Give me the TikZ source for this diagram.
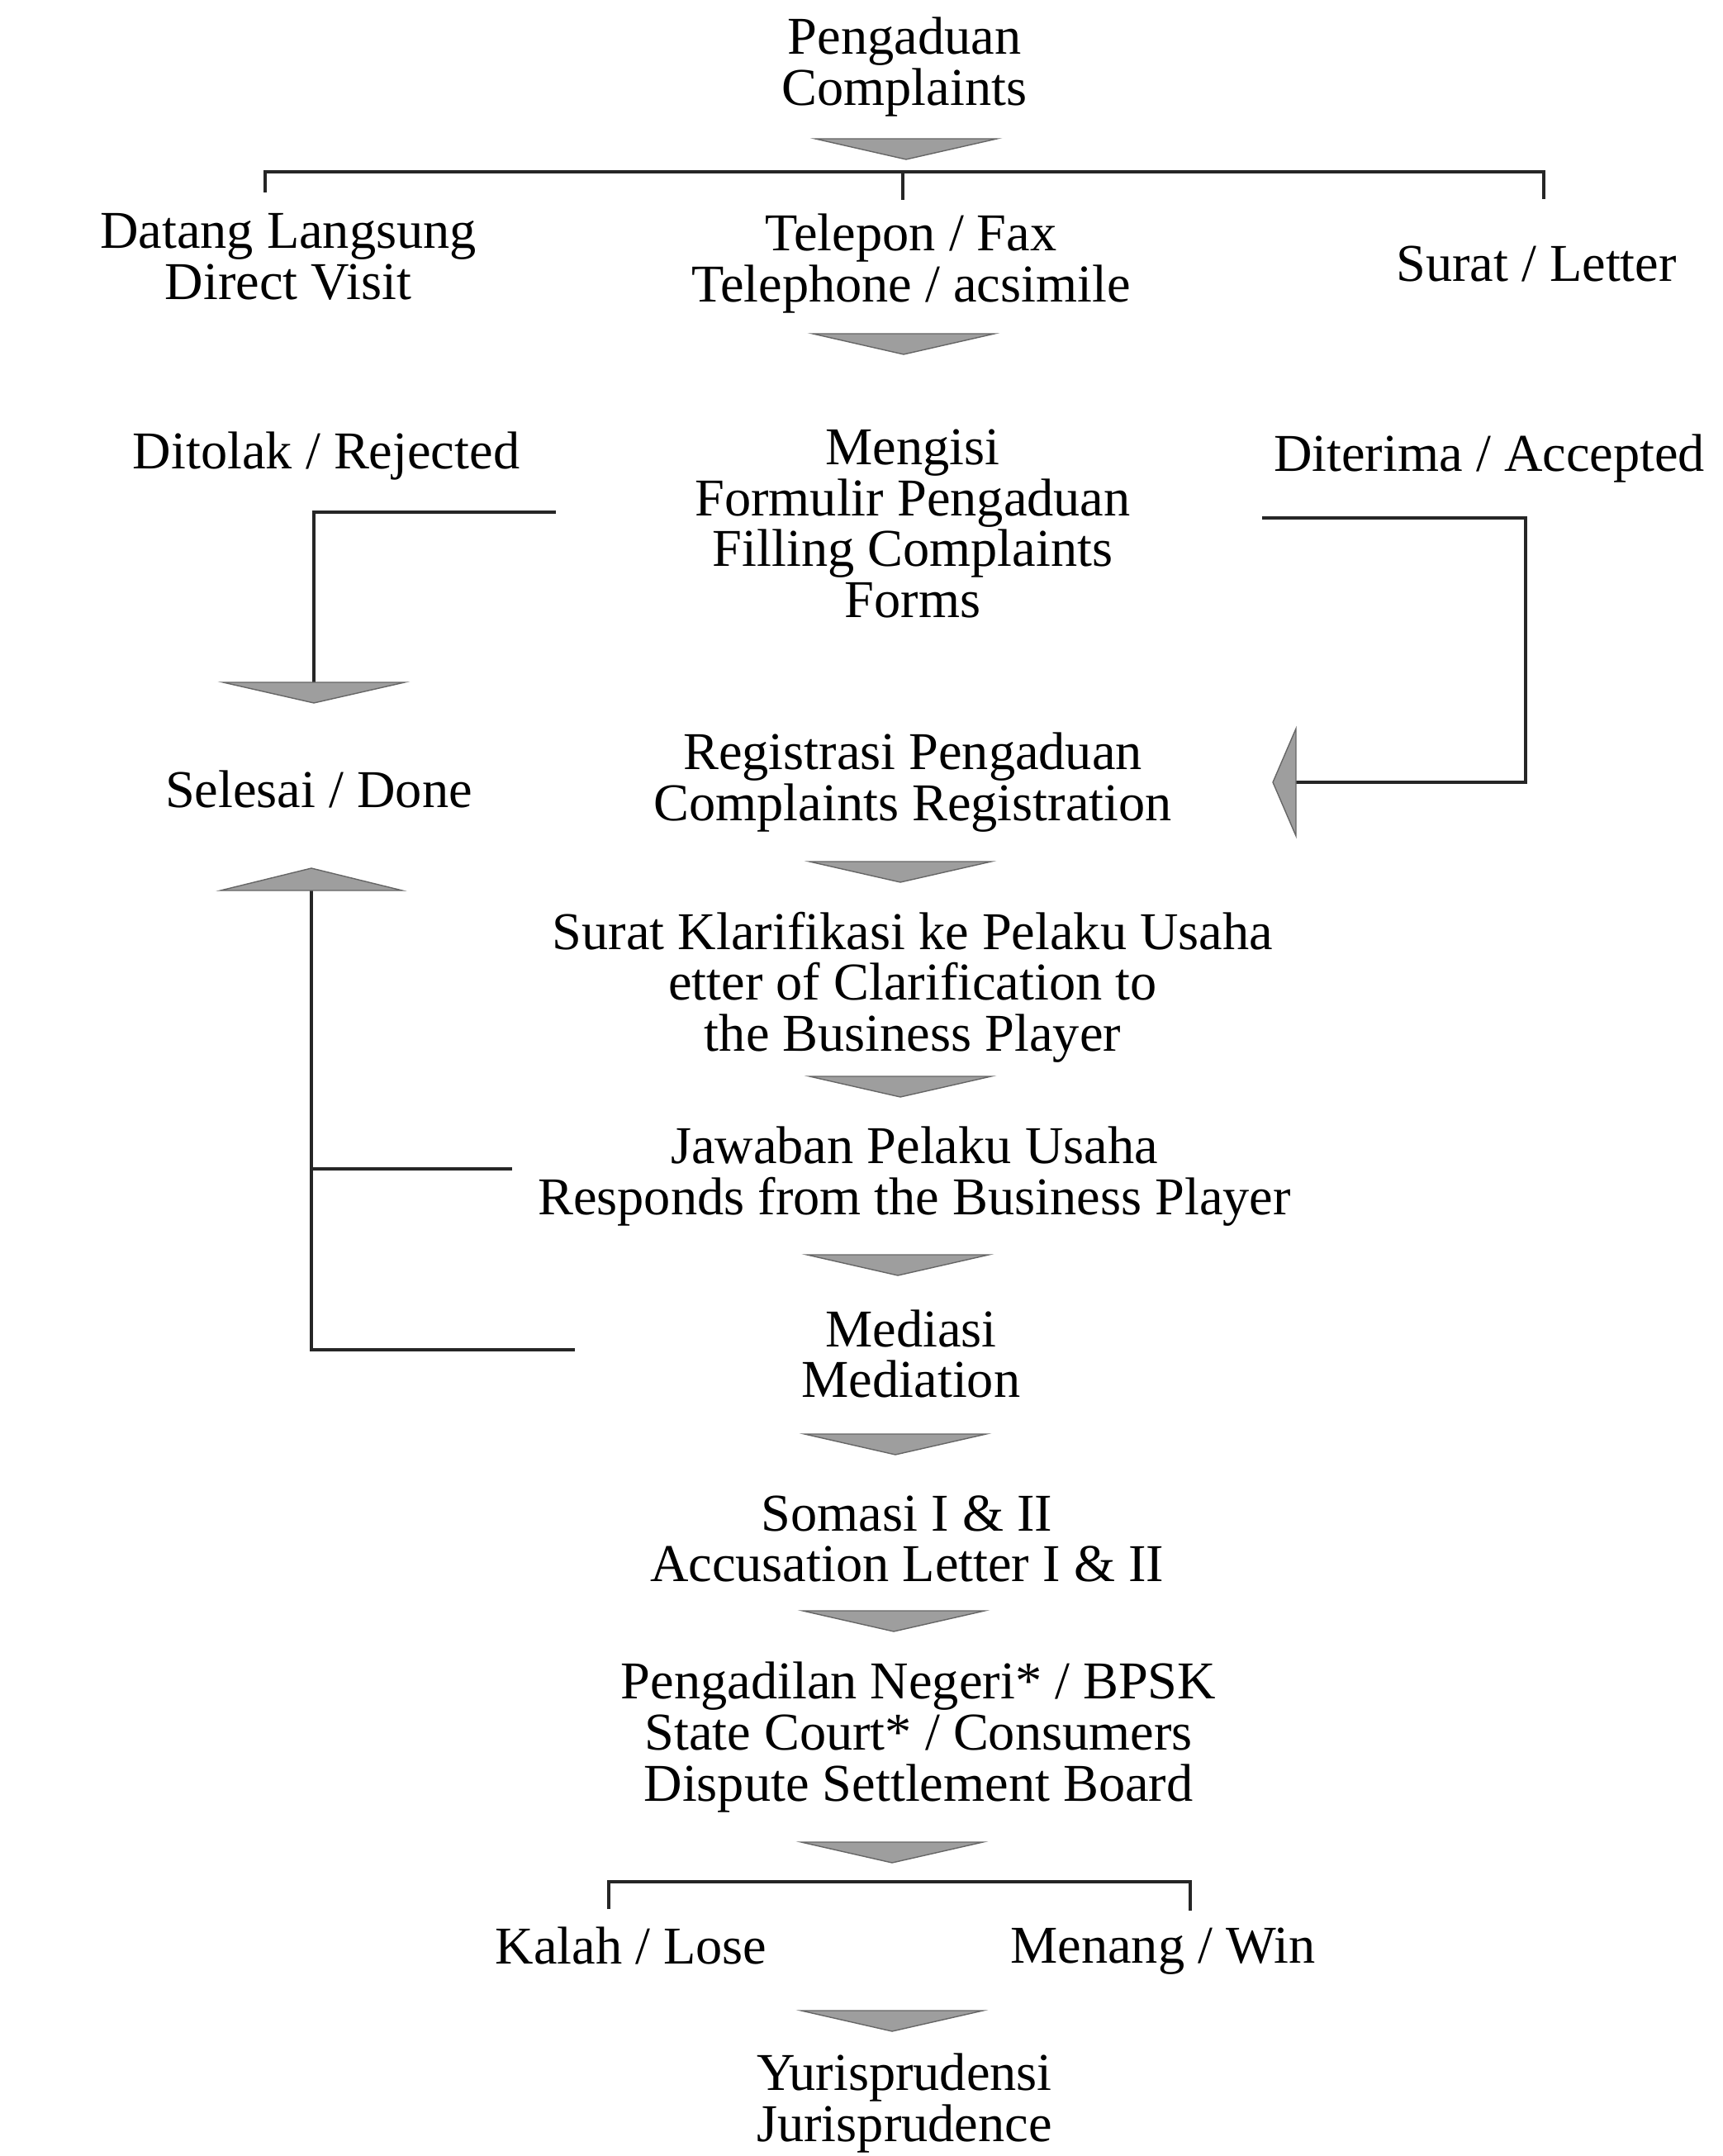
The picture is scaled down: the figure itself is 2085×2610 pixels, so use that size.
\documentclass[tikz,border=0pt]{standalone}
\usepackage{fontspec}
\setmainfont{Liberation Serif}
\usetikzlibrary{calc, positioning}

\tikzset{
    lbl/.style={align=center, inner sep=0pt, font=\fontsize{18.3}{17.5}\selectfont},
    conn/.style={line width=0.9pt, black!85},
    headgray/.style={fill=black!38, draw=black!60, line width=0.4pt},
    downhead/.pic={\path[headgray] (-110,0) -- (110,0) -- (0,25) -- cycle;},
    uphead/.pic={\path[headgray] (-110,0) -- (110,0) -- (0,-27) -- cycle;},
    lefthead/.pic={\path[headgray] (0,-65) -- (0,65) -- (-28,0) -- cycle;}
}

\begin{document}
\begin{tikzpicture}[x=0.01cm, y=-0.01cm]
    \useasboundingbox (0,0) rectangle (2085,2610);

    % main column
    \node[lbl] (pengaduan) at (1095,81) {Pengaduan\\Complaints};
    \node[lbl] (datang) at (349,311) {Datang Langsung\\Direct Visit};
    \node[lbl] (telepon) at (1103,319) {Telepon / Fax\\Telephone / acsimile};
    \node[lbl] (surat) at (1860,320) {Surat / Letter};
    \node[lbl] (ditolak) at (395,552) {Ditolak / Rejected};
    \node[lbl] (mengisi) at (1105,634) {Mengisi\\Formulir Pengaduan\\Filling Complaints\\Forms};
    \node[lbl] (diterima) at (1803,555) {Diterima / Accepted};
    \node[lbl] (selesai) at (386,955) {Selesai / Done};
    \node[lbl] (registrasi) at (1105,947) {Registrasi Pengaduan\\Complaints Registration};
    \node[lbl] (klarifikasi) at (1105,1195) {Surat Klarifikasi ke Pelaku Usaha\\etter of Clarification to\\the Business Player};
    \node[lbl] (jawaban) at (1107,1424) {Jawaban Pelaku Usaha\\Responds from the Business Player};
    \node[lbl] (mediasi) at (1103,1639) {Mediasi\\Mediation};
    \node[lbl] (somasi) at (1098,1863) {Somasi I \& II\\Accusation Letter I \& II};
    \node[lbl] (pengadilan) at (1112,2103) {Pengadilan Negeri* / BPSK\\State Court* / Consumers\\Dispute Settlement Board};
    \node[lbl] (kalah) at (764,2355) {Kalah / Lose};
    \node[lbl] (menang) at (1408,2362) {Menang / Win};
    \node[lbl] (yurisprudensi) at (1095,2546) {Yurisprudensi\\Jurisprudence};

    % down heads between the steps
    \foreach \hx/\hy in {1097/168, 1094/404, 1090/1043, 1090/1303, 1087/1519,
                         1084/1736, 1082/1950, 1080/2230, 1080/2434}
        \pic at (\hx,\hy) {downhead};

    % top bracket
    \coordinate (brL) at (321,233);
    \coordinate (brR) at (1869,241);
    \coordinate (brM) at (1093,208);
    \draw[conn] (brL) |- (brM) -| (brR);
    \draw[conn] (brM) -- ++(0,34);

    % rejected
    \coordinate (rejA) at (673,620);
    \coordinate (rejB) at (380,826);
    \draw[conn] (rejA) -| (rejB);
    \pic at (rejB) {downhead};

    % accepted
    \coordinate (accA) at (1528,627);
    \coordinate (accC) at (1847,947);
    \coordinate (accB) at (1569,947);
    \draw[conn] (accA) -| (accC) -- (accB);
    \pic at (accB) {lefthead};

    % back to done
    \coordinate (doneA) at (377,1078);
    \coordinate (doneB) at (377,1634);
    \coordinate (medA) at (696,1634);
    \coordinate (jawA) at (620,1415);
    \draw[conn] (doneA) -- (doneB) -- (medA);
    \draw[conn] (jawA) -- (jawA -| doneA);
    \pic at (doneA) {uphead};

    % bottom bracket
    \coordinate (br2L) at (737,2311);
    \coordinate (br2R) at (1441,2313);
    \draw[conn] (br2L) |- (1089,2278) -| (br2R);
\end{tikzpicture}
\end{document}
